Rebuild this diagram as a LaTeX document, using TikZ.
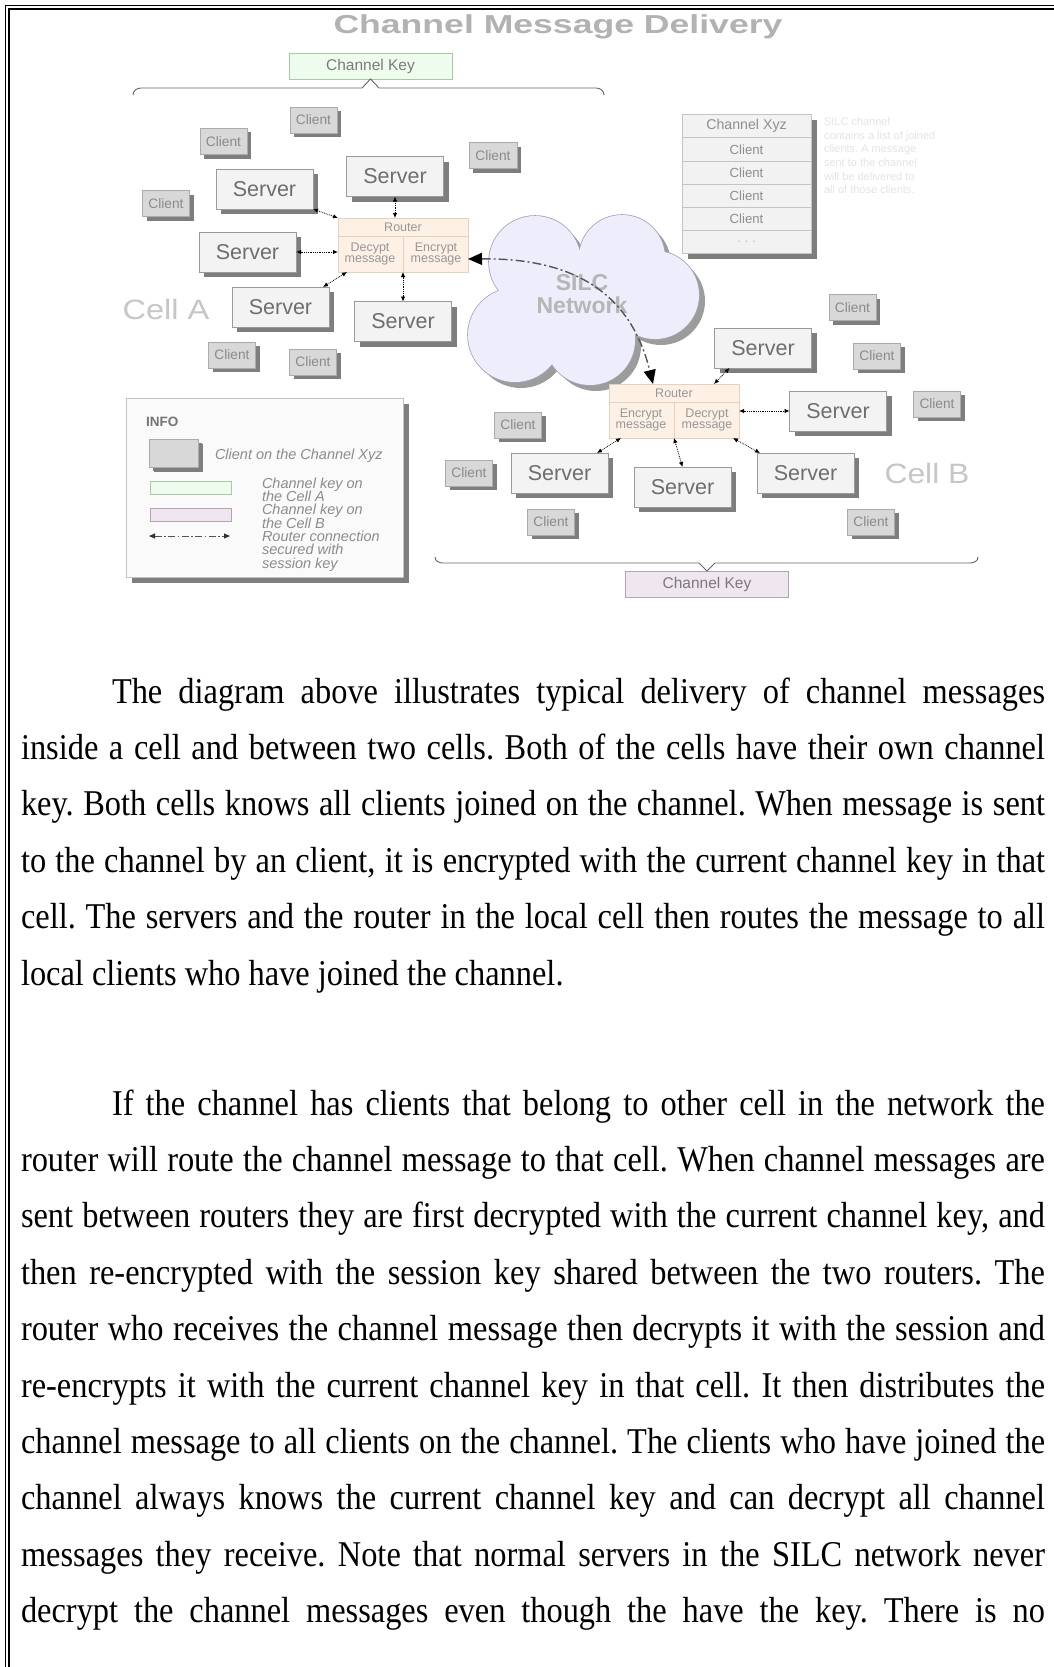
\documentclass[tikz,border=0pt]{standalone}
\usepackage{fontspec}
\usepackage{graphicx}
\setmainfont{Liberation Serif}
\setsansfont{Liberation Sans}
\usetikzlibrary{shadows,calc,arrows.meta}

\definecolor{srvfill}{HTML}{F3F3F3}
\definecolor{srvdraw}{HTML}{9A9A9A}
\definecolor{srvtext}{HTML}{6E6E6E}
\definecolor{clientfill}{HTML}{D8D8D8}
\definecolor{clientdraw}{HTML}{ABABAB}
\definecolor{clienttext}{HTML}{8A8A8A}
\definecolor{shadowgray}{HTML}{7E7E7E}
\definecolor{routerfill}{HTML}{FDF1E6}
\definecolor{routerdraw}{HTML}{E4D2C0}
\definecolor{routertext}{HTML}{979797}
\definecolor{cloudfill}{HTML}{EDEDFC}
\definecolor{clouddraw}{HTML}{A4A4BC}
\definecolor{cloudshadow}{HTML}{9C9C9C}
\definecolor{cloudtext}{HTML}{B6B6B6}
\definecolor{sessiongray}{HTML}{555555}
\definecolor{cellgray}{HTML}{C6C6C6}
\definecolor{titlegray}{HTML}{B2B2B2}
\definecolor{keygreen}{HTML}{EEFCEE}
\definecolor{keygreendraw}{HTML}{A9C9A9}
\definecolor{keypink}{HTML}{EFE6EF}
\definecolor{keypinkdraw}{HTML}{B3A3B3}
\definecolor{keytext}{HTML}{7A7A7A}
\definecolor{tablefill}{HTML}{F2F2F2}
\definecolor{tabledraw}{HTML}{C4C4C4}
\definecolor{tabletext}{HTML}{8E8E8E}
\definecolor{infofill}{HTML}{FAFAFA}
\definecolor{infodraw}{HTML}{C2C2C2}
\definecolor{infotext}{HTML}{8C8C8C}
\definecolor{bracegray}{HTML}{666666}
\definecolor{faintgray}{HTML}{E4E4E4}

% one justified line of body text, set a little taller than wide
\newcommand\bodyline[2]{\scalebox{1}[1.12]{\makebox[#1][s]{#2}}}

\begin{document}
\frenchspacing
\begin{tikzpicture}[x=1pt,y=-1pt,
  every node/.style={inner sep=0pt,outer sep=0pt},
  shadowed/.style={drop shadow={shadow xshift=#1,shadow yshift=-#1,fill=shadowgray,opacity=1}},
  server/.style={rectangle,draw=srvdraw,line width=0.8pt,fill=srvfill,
    minimum width=97pt,minimum height=40pt,
    font=\sffamily\fontsize{21.5}{24}\selectfont,text=srvtext,shadowed=5pt},
  client/.style={rectangle,draw=clientdraw,line width=0.8pt,fill=clientfill,
    minimum width=47pt,minimum height=26pt,
    font=\sffamily\fontsize{13.7}{15}\selectfont,text=clienttext,shadowed=4pt},
  router/.style={rectangle,draw=routerdraw,line width=0.8pt,fill=routerfill,
    minimum width=130pt,minimum height=54pt},
  routerlabel/.style={font=\sffamily\fontsize{12.5}{11.7}\selectfont,text=routertext,align=center},
  link/.style={draw=black,line width=0.8pt,densely dotted,
    {Latex[length=5pt,width=4.5pt]}-{Latex[length=5pt,width=4.5pt]}},
  session/.style={draw=sessiongray,line width=1.4pt,dash pattern=on 9pt off 3pt on 2pt off 3pt,
    {Triangle[length=14pt,width=12pt,color=black]}-{Triangle[length=14pt,width=12pt,color=black]}},
  legendarrow/.style={draw=sessiongray,line width=0.9pt,dash pattern=on 7pt off 2.5pt on 1.5pt off 2.5pt,
    {Triangle[length=6pt,width=5pt,color=black!80]}-{Triangle[length=6pt,width=5pt,color=black!80]}},
  celllabel/.style={font=\sffamily\fontsize{28}{30}\selectfont,text=cellgray},
  keybox/.style={rectangle,line width=0.8pt,minimum width=163pt,minimum height=26pt,
    font=\sffamily\fontsize{15.5}{17}\selectfont,text=keytext},
  brace/.style={draw=bracegray,line width=0.9pt},
  tabcell/.style={font=\sffamily\fontsize{13.2}{15}\selectfont,text=tabletext},
  faint/.style={anchor=base west,font=\sffamily\fontsize{11}{12}\selectfont,text=faintgray},
  infoline/.style={anchor=base west,font=\sffamily\itshape\fontsize{14.5}{14}\selectfont,text=infotext},
  bodytext/.style={anchor=base west,font=\fontsize{32.4}{38}\selectfont,text=black}
]
\useasboundingbox (0,0) rectangle (1054,1667);
\fill[white] (0,0) rectangle (1054,1667);

% page frame: double rule on the left and along the top
\draw[line width=1.1pt] (5.5,1667) -- (5.5,5.5) -- (1054,5.5);
\draw[line width=1.1pt] (9,1667) -- (9,9) -- (1054,9);

% heading
\node[anchor=base,font=\sffamily\bfseries\fontsize{26}{28}\selectfont,text=titlegray] (title) at (558,34)
  {\resizebox{449pt}{\height}{Channel Message Delivery}};

% channel keys and braces
\node[keybox,fill=keygreen,draw=keygreendraw] (keyTop) at (370.5,66) {Channel Key};
\draw[brace] (133,95) to[out=90,in=180] (141,88) -- (362,88) -- (keyTop.south) -- (379,88)
  -- (596,88) to[out=0,in=90] (604,95);
\node[keybox,fill=keypink,draw=keypinkdraw] (keyBot) at (707,584) {Channel Key};
\draw[brace] (435,557) to[out=-90,in=180] (443,563) -- (699,563) -- (keyBot.north) -- (715,563)
  -- (970,563) to[out=0,in=-90] (978,557);

% SILC network cloud
\newcommand\cloudblobs{(535,262) circle (46) (622,258) circle (43) (655,295) circle (44)
  (515,335) circle (47) (590,340) circle (45) (575,300) circle (50)}
\begin{scope}[shift={(6,6)}]
  \fill[cloudshadow] \cloudblobs;
\end{scope}
\draw[clouddraw,line width=1.6pt] \cloudblobs;
\fill[cloudfill] \cloudblobs;
\node[font=\sffamily\bfseries\fontsize{23}{23}\selectfont,text=cloudtext,align=center] (cloudlabel)
  at (582,294) {SILC\\Network};

% channel member table
\node[rectangle,fill=tablefill,draw=tabledraw,line width=0.8pt,minimum width=129pt,
  minimum height=139pt,shadowed=6pt] (tbl) at (746.5,183.5) {};
\foreach \dy in {24,47,70,93,116}
  \draw[tabledraw,line width=1pt] ($(tbl.north west)+(0,\dy)$) -- ($(tbl.north east)+(0,\dy)$);
\node[tabcell,font=\sffamily\fontsize{14.2}{15}\selectfont] (tH) at (746.5,126) {Channel Xyz};
\node[tabcell] (tC1) at (746.5,149.5) {Client};
\node[tabcell] (tC2) at (746.5,172.5) {Client};
\node[tabcell] (tC3) at (746.5,195.5) {Client};
\node[tabcell] (tC4) at (746.5,218.5) {Client};
\node[tabcell,text=tabletext!60] (tC5) at (746.5,241.5) {. . .};
\node[faint] (f1) at (824,126) {SILC channel};
\node[faint] (f2) at (824,139.5) {contains a list of joined};
\node[faint] (f3) at (824,153) {clients. A message};
\node[faint] (f4) at (824,166.5) {sent to the channel};
\node[faint] (f5) at (824,180) {will be delivered to};
\node[faint] (f6) at (824,193.5) {all of those clients.};

% cell A
\node[client] (cA1) at (223.5,141.5) {Client};
\node[client] (cA2) at (313.5,120) {Client};
\node[client] (cA3) at (166,203.5) {Client};
\node[client,minimum width=48pt] (cA4) at (493,155.5) {Client};
\node[client] (cA5) at (232,355) {Client};
\node[client] (cA6) at (313,362) {Client};
\node[server] (sA1) at (264.5,189) {Server};
\node[server] (sA2) at (395,176.5) {Server};
\node[server] (sA3) at (247.5,252) {Server};
\node[server] (sA4) at (280.5,307) {Server};
\node[server] (sA5) at (403,321.5) {Server};
\node[router] (rA) at (403,245) {};
\draw[routerdraw,line width=0.8pt] ($(rA.north west)+(0,18)$) -- ($(rA.north east)+(0,18)$);
\draw[routerdraw,line width=0.8pt] ($(rA.north)+(0,18)$) -- (rA.south);
\node[routerlabel] (rAh) at ($(rA.north)+(0,9)$) {Router};
\node[routerlabel] (rAl) at ($(rA.center)+(-33,9)$) {Decypt\\message};
\node[routerlabel] (rAr) at ($(rA.center)+(33,9)$) {Encrypt\\message};
\node[celllabel] (cellA) at (166,309) {\resizebox{87pt}{\height}{Cell A}};

\draw[link] (sA1.south east) -- (rA.north west);
\draw[link] (sA2.south) -- (sA2.south |- rA.north);
\draw[link] (sA3.east) -- (sA3.east -| rA.west);
\draw[link] ([xshift=9pt]rA.south west) -- ([xshift=-6pt]sA4.north east);
\draw[link] (rA.south) -- (sA5.north);

% cell B
\node[client] (cB1) at (852.5,307.5) {Client};
\node[client] (cB2) at (877,356) {Client};
\node[client] (cB3) at (937,404) {Client};
\node[client] (cB4) at (518,425) {Client};
\node[client] (cB5) at (469,473) {Client};
\node[client] (cB6) at (551,522) {Client};
\node[client] (cB7) at (871,522) {Client};
\node[server] (sB1) at (763,348) {Server};
\node[server] (sB2) at (838,411) {Server};
\node[server] (sB3) at (559.5,473) {Server};
\node[server] (sB4) at (682.5,487) {Server};
\node[server] (sB5) at (805.5,473) {Server};
\node[router] (rB) at (674,411) {};
\draw[routerdraw,line width=0.8pt] ($(rB.north west)+(0,18)$) -- ($(rB.north east)+(0,18)$);
\draw[routerdraw,line width=0.8pt] ($(rB.north)+(0,18)$) -- (rB.south);
\node[routerlabel] (rBh) at ($(rB.north)+(0,9)$) {Router};
\node[routerlabel] (rBl) at ($(rB.center)+(-33,9)$) {Encrypt\\message};
\node[routerlabel] (rBr) at ($(rB.center)+(33,9)$) {Decrypt\\message};
\node[celllabel] (cellB) at (927,473) {\resizebox{85pt}{\height}{Cell B}};

\draw[link] ([xshift=15pt]sB1.south west) -- ([xshift=-25pt]rB.north east);
\draw[link] (rB.east) -- (sB2.west);
\draw[link] ([xshift=12pt]rB.south west) -- ([xshift=-11pt]sB3.north east);
\draw[link] (rB.south) -- (sB4.north);
\draw[link] ([xshift=-6pt]rB.south east) -- ([xshift=3pt]sB5.north west);

% router to router session link across the network
\draw[session] ([yshift=-14pt]rA.east) .. controls (570,258) and (630,290) .. ([xshift=-21pt]rB.north);

% legend
\node[rectangle,fill=infofill,draw=infodraw,line width=0.8pt,minimum width=277pt,
  minimum height=179pt,shadowed=6pt] (info) at (264.5,487.5) {};
\node[anchor=west,font=\sffamily\bfseries\fontsize{13.5}{15}\selectfont,text=black!55] (infoT)
  at (146,422) {INFO};
\node[client,minimum width=49pt,minimum height=28pt,shadowed=5pt] (infoC) at (173.5,453) {};
\node[infoline,anchor=west] (infoCt) at (215,456) {Client on the Channel Xyz};
\node[rectangle,fill=keygreen,draw=keygreendraw,line width=0.9pt,minimum width=81pt,
  minimum height=13pt] (legA) at (190.5,487.5) {};
\node[rectangle,fill=keypink,draw=keypinkdraw,line width=0.9pt,minimum width=81pt,
  minimum height=13pt] (legB) at (190.5,515) {};
\coordinate (la1) at (149,536);
\coordinate (la2) at (230,536);
\draw[legendarrow] (la1) -- (la2);
\node[infoline] (i1) at (262,488) {Channel key on};
\node[infoline] (i2) at (262,501.3) {the Cell A};
\node[infoline] (i3) at (262,514.7) {Channel key on};
\node[infoline] (i4) at (262,528) {the Cell B};
\node[infoline] (i5) at (262,541.3) {Router connection};
\node[infoline] (i6) at (262,554.7) {secured with};
\node[infoline] (i7) at (262,568) {session key};

% body text
\node[bodytext] (pAa) at (112,703) {\bodyline{933pt}{The diagram above illustrates typical delivery of channel messages}};
\node[bodytext] (pAb) at (21,759.4) {\bodyline{1024pt}{inside a cell and between two cells. Both of the cells have their own channel}};
\node[bodytext] (pAc) at (21,815.8) {\bodyline{1024pt}{key. Both cells knows all clients joined on the channel. When message is sent}};
\node[bodytext] (pAd) at (21,872.2) {\bodyline{1024pt}{to the channel by an client, it is encrypted with the current channel key in that}};
\node[bodytext] (pAe) at (21,928.6) {\bodyline{1024pt}{cell. The servers and the router in the local cell then routes the message to all}};
\node[bodytext] (pAf) at (21,985) {\scalebox{1}[1.12]{local clients who have joined the channel.}};

\node[bodytext] (pBa) at (112,1115) {\bodyline{933pt}{If the channel has clients that belong to other cell in the network the}};
\node[bodytext] (pBb) at (21,1171.4) {\bodyline{1024pt}{router will route the channel message to that cell. When channel messages are}};
\node[bodytext] (pBc) at (21,1227.8) {\bodyline{1024pt}{sent between routers they are first decrypted with the current channel key, and}};
\node[bodytext] (pBd) at (21,1284.2) {\bodyline{1024pt}{then re-encrypted with the session key shared between the two routers. The}};
\node[bodytext] (pBe) at (21,1340.6) {\bodyline{1024pt}{router who receives the channel message then decrypts it with the session and}};
\node[bodytext] (pBf) at (21,1397) {\bodyline{1024pt}{re-encrypts it with the current channel key in that cell. It then distributes the}};
\node[bodytext] (pBg) at (21,1453.4) {\bodyline{1024pt}{channel message to all clients on the channel. The clients who have joined the}};
\node[bodytext] (pBh) at (21,1509.8) {\bodyline{1024pt}{channel always knows the current channel key and can decrypt all channel}};
\node[bodytext] (pBi) at (21,1566.2) {\bodyline{1024pt}{messages they receive. Note that normal servers in the SILC network never}};
\node[bodytext] (pBj) at (21,1622.6) {\bodyline{1024pt}{decrypt the channel messages even though the have the key. There is no}};
\end{tikzpicture}
\end{document}
